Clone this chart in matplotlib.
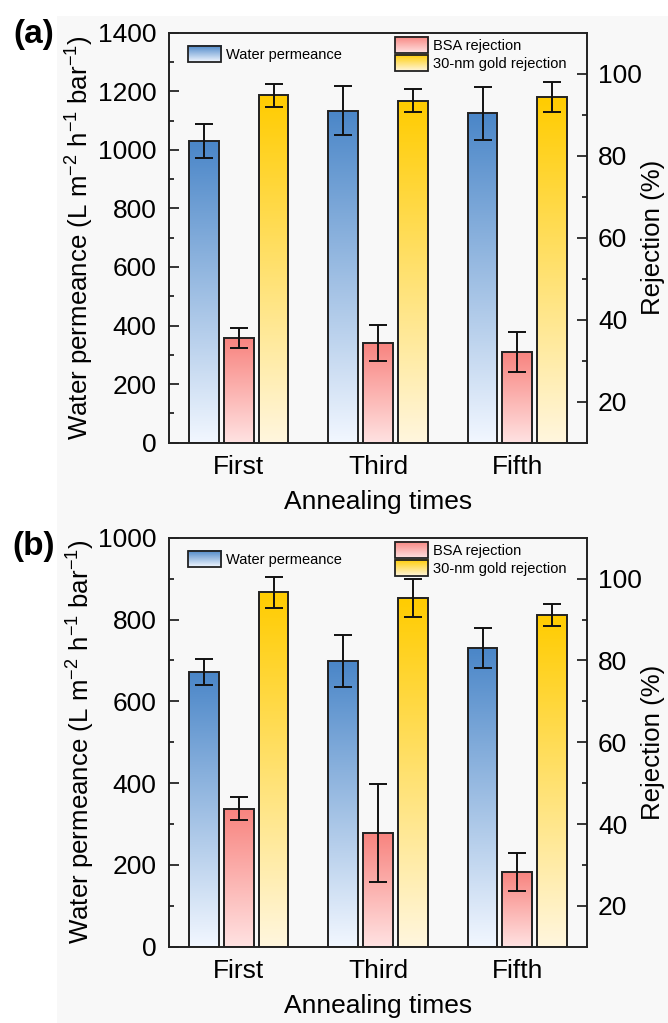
import numpy as np
import matplotlib
matplotlib.use("Agg")
import matplotlib.pyplot as plt
from matplotlib.patches import Rectangle
from matplotlib.legend_handler import HandlerBase
from matplotlib.image import BboxImage
from matplotlib.transforms import Bbox, TransformedBbox
from matplotlib.colors import to_rgb

plt.rcParams['font.family'] = ['Liberation Sans', 'DejaVu Sans']
plt.rcParams['mathtext.fontset'] = 'custom'
plt.rcParams['mathtext.rm'] = 'Liberation Sans'
plt.rcParams['mathtext.it'] = 'Liberation Sans'

# ---------------- data ----------------
categories = ["First", "Third", "Fifth"]

water_a = [1030, 1134, 1125]
water_a_err = [58, 83, 91]
bsa_a = [35.6, 34.3, 32.1]
bsa_a_err = [2.4, 4.4, 4.9]
gold_a = [94.7, 93.4, 94.3]
gold_a_err = [2.9, 2.8, 3.7]

water_b = [671, 699, 730]
water_b_err = [32, 64, 48]
bsa_b = [43.7, 37.7, 28.3]
bsa_b_err = [2.8, 12.0, 4.6]
gold_b = [96.7, 95.2, 91.1]
gold_b_err = [3.8, 4.7, 2.8]

left_ticks_a = [0, 200, 400, 600, 800, 1000, 1200, 1400]
left_ticks_b = [0, 200, 400, 600, 800, 1000]
right_ticks = [20, 40, 60, 80, 100]

series_labels = ["Water permeance", "BSA rejection", "30-nm gold rejection"]

# ---------------- styles ----------------
BLUE = ("#4a86c8", "#f2f7ff")
RED = ("#f8847f", "#ffe2e2")
GOLD = ("#ffcc00", "#fff6de")
REJ_LIM = (10, 110)
W = 0.215
STEP = 0.25
FS = 19


def grad_array(colors, n=256):
    top = np.array(to_rgb(colors[0]))
    bot = np.array(to_rgb(colors[1]))
    t = np.linspace(0, 1, n)[:, None]
    arr = top[None, :] * (1 - t) + bot[None, :] * t
    return arr[:, None, :]


class GradHandler(HandlerBase):
    def __init__(self, colors):
        super().__init__()
        self.colors = colors

    def create_artists(self, legend, orig_handle, xdescent, ydescent,
                       width, height, fontsize, trans):
        bb = Bbox.from_bounds(-xdescent, -ydescent, width, height)
        img = BboxImage(TransformedBbox(bb, trans), interpolation='bilinear')
        img.set_data(grad_array(self.colors))
        rect = Rectangle((-xdescent, -ydescent), width, height, fc='none',
                         ec='#222222', lw=1.3, transform=trans)
        return [img, rect]


def gradient_bars(ax, xs, vals, base, colors):
    bars = ax.bar(xs, np.array(vals) - base, bottom=base, width=W,
                  facecolor='none', edgecolor='#222222', linewidth=1.4, zorder=3)
    for b in bars:
        x0, y0 = b.get_x(), b.get_y()
        w, h = b.get_width(), b.get_height()
        im = ax.imshow(grad_array(colors), extent=[x0, x0 + w, y0, y0 + h],
                       aspect='auto', interpolation='bilinear', zorder=2)
        im.set_clip_path(b)
    return bars


def panel(fig, rect, water, water_err, bsa, bsa_err, gold, gold_err, left_ticks):
    ax = fig.add_axes(rect)
    ax.set_facecolor('none')
    ax2 = ax.twinx()
    x = np.arange(1, len(categories) + 1)
    ylim = (left_ticks[0], left_ticks[-1])

    eb = dict(fmt='none', ecolor='#111111', elinewidth=1.4, capsize=6.5,
              capthick=1.4, zorder=5)
    gradient_bars(ax, x - STEP, water, ylim[0], BLUE)
    ax.errorbar(x - STEP, water, yerr=water_err, **eb)
    gradient_bars(ax2, x, bsa, REJ_LIM[0], RED)
    ax2.errorbar(x, bsa, yerr=bsa_err, **eb)
    gradient_bars(ax2, x + STEP, gold, REJ_LIM[0], GOLD)
    ax2.errorbar(x + STEP, gold, yerr=gold_err, **eb)

    for a in (ax, ax2):
        a.set_xlim(0.5, len(categories) + 0.5)
        a.set_autoscale_on(False)
    ax.set_ylim(*ylim)
    ax2.set_ylim(*REJ_LIM)

    ax.set_xticks(x)
    ax.set_xticklabels(categories, fontsize=FS)
    ax.tick_params(axis='x', length=0, pad=9)
    ax.set_yticks(left_ticks)
    step = left_ticks[1] - left_ticks[0]
    ax.set_yticks(np.arange(left_ticks[0] + step / 2, left_ticks[-1], step), minor=True)
    ax.tick_params(axis='y', which='major', direction='in', length=7, width=1.1,
                   labelsize=FS, pad=9)
    ax.tick_params(axis='y', which='minor', direction='in', length=3.5, width=1.1)
    ax2.set_yticks(right_ticks)
    ax2.set_yticks([30, 50, 70, 90], minor=True)
    ax2.tick_params(axis='y', which='major', direction='in', length=7, width=1.1,
                    labelsize=FS, pad=8)
    ax2.tick_params(axis='y', which='minor', direction='in', length=3.5, width=1.1)

    for a in (ax, ax2):
        for s in a.spines.values():
            s.set_linewidth(1.2)
            s.set_color('#222222')

    ax.set_xlabel("Annealing times", fontsize=FS, labelpad=8)
    ax.set_ylabel(r"Water permeance (L m$^{\mathregular{-2}}$ h$^{\mathregular{-1}}$ bar$^{\mathregular{-1}}$)",
                  fontsize=18.6, labelpad=1)
    ax2.set_ylabel("Rejection (%)", fontsize=18.6, labelpad=-0.5)

    h_w = Rectangle((0, 0), 1, 1)
    h_b = Rectangle((0, 0), 1, 1)
    h_g = Rectangle((0, 0), 1, 1)
    leg1 = ax2.legend([h_w], [series_labels[0]], loc='upper left',
                      bbox_to_anchor=(0.045, 0.968), frameon=False,
                      fontsize=10.5, handlelength=2.3, handleheight=1.35,
                      handletextpad=0.3, borderpad=0, borderaxespad=0,
                      handler_map={h_w: GradHandler(BLUE)})
    leg1.set_zorder(10)
    ax2.add_artist(leg1)
    leg2 = ax2.legend([h_b, h_g], series_labels[1:], loc='upper left',
                      bbox_to_anchor=(0.54, 0.99), frameon=False,
                      fontsize=10.5, handlelength=2.3, handleheight=1.35,
                      handletextpad=0.3, labelspacing=0.12, borderpad=0,
                      borderaxespad=0,
                      handler_map={h_b: GradHandler(RED), h_g: GradHandler(GOLD)})
    leg2.set_zorder(10)
    return ax, ax2


fig = plt.figure(figsize=(6.68, 10.23), dpi=100)
fig.patch.set_facecolor('white')
fig.add_artist(Rectangle((57 / 668, 0), 1, 1 - 16 / 1023, transform=fig.transFigure,
                         facecolor='#f8f8f8', edgecolor='none', zorder=-10))

panel(fig, [169 / 668, 1 - 442.7 / 1023, 418 / 668, 410 / 1023],
      water_a, water_a_err, bsa_a, bsa_a_err, gold_a, gold_a_err, left_ticks_a)
panel(fig, [169 / 668, 1 - 946.7 / 1023, 418 / 668, 409 / 1023],
      water_b, water_b_err, bsa_b, bsa_b_err, gold_b, gold_b_err, left_ticks_b)

fig.text(34 / 668, 1 - 34 / 1023, "(a)", fontsize=24, fontweight='bold',
         ha='center', va='center')
fig.text(34 / 668, 1 - 546 / 1023, "(b)", fontsize=24, fontweight='bold',
         ha='center', va='center')

fig.savefig("out.png", dpi=100, facecolor=fig.get_facecolor())
